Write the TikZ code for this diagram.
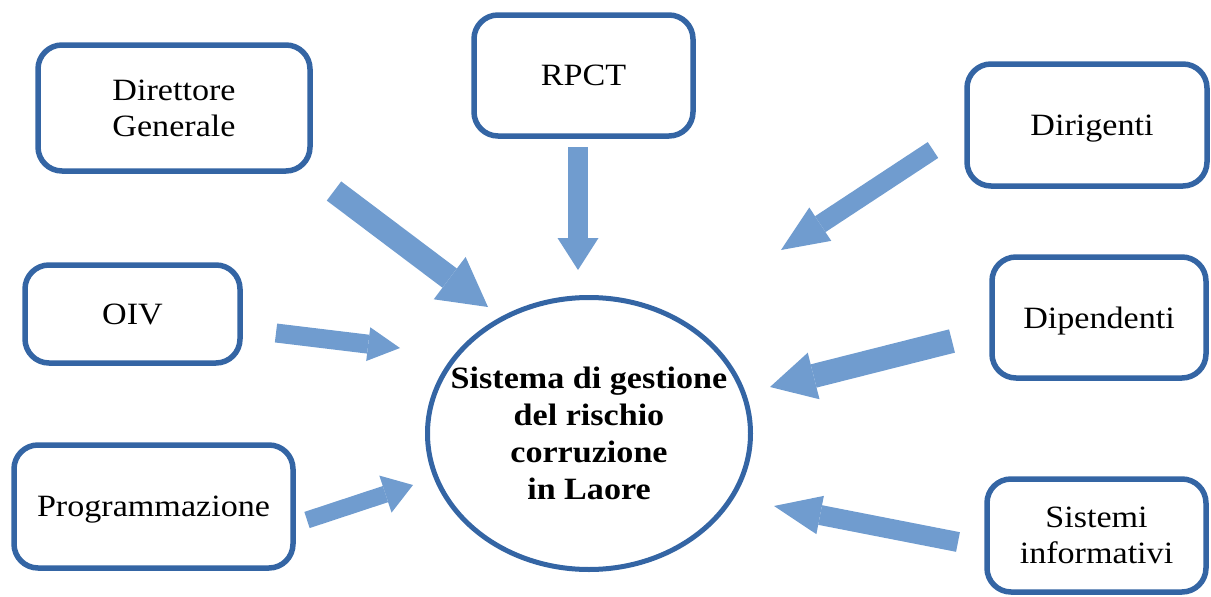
\documentclass[tikz,border=0pt]{standalone}
\usepackage{fontspec}
\setmainfont[FakeStretch=1.1]{Liberation Serif}
\usetikzlibrary{arrows.meta,shapes.geometric}
\definecolor{boxblue}{RGB}{52,101,164}
\definecolor{arrblue}{RGB}{112,156,207}
\tikzset{
  box/.style={draw=boxblue, line width=5.5pt, rounded corners=24pt, fill=white,
    inner sep=0pt, align=center, text depth=0pt,
    font=\fontsize{31}{36}\selectfont},
  blockarrow/.style={draw=arrblue, line cap=butt},
}
\begin{document}
\begin{tikzpicture}[x=1pt,y=-1pt]
\useasboundingbox (0,0) rectangle (1211,597);

% boxes
\node[box, minimum width=272pt, minimum height=126pt] (dg) at (174,108) {Direttore\\Generale};
\node[box, minimum width=219pt, minimum height=121pt] (rpct) at (583.5,75.5) {RPCT};
\node[box, minimum width=240pt, minimum height=122pt] (dirig) at (1087,125) {\hspace*{10pt}Dirigenti};
\node[box, minimum width=214pt, minimum height=121pt] (dip) at (1099,317.5) {Dipendenti};
\node[box, minimum width=219pt, minimum height=113pt] (sis) at (1096.5,535.5) {Sistemi\\informativi};
\node[box, minimum width=215pt, minimum height=98pt] (oiv) at (132.5,314) {OIV};
\node[box, minimum width=279pt, minimum height=123pt] (prog) at (153.5,506.5) {Programmazione};

% central ellipse
\node[draw=boxblue, line width=5pt, ellipse, inner sep=0pt,
      minimum width=323pt, minimum height=272pt] (sys) at (589,433.5) {};
\node[align=center, font=\fontsize{31}{37}\selectfont\bfseries, text depth=0pt]
  (systext) at (sys.center) {Sistema di gestione\\del rischio\\corruzione\\in Laore};

% arrow end points
\coordinate (dgT) at (334,191);   \coordinate (dgH) at (488,307);
\coordinate (rpT) at (578,147);   \coordinate (rpH) at (578,270);
\coordinate (diT) at (933,150);   \coordinate (diH) at (781,250);
\coordinate (dpT) at (952,341);   \coordinate (dpH) at (770,387);
\coordinate (siT) at (958,542);   \coordinate (siH) at (774,506);
\coordinate (oiT) at (276,333);   \coordinate (oiH) at (400,348);
\coordinate (prT) at (307,520);   \coordinate (prH) at (413,485);

% block arrows
\draw[blockarrow, line width=24pt, -{Triangle[length=48pt,width=53pt,line width=0pt]}] (dgT) -- (dgH);
\draw[blockarrow, line width=20pt, -{Triangle[length=32pt,width=41pt,line width=0pt]}] (rpT) -- (rpH);
\draw[blockarrow, line width=19pt, -{Triangle[length=47pt,width=40pt,line width=0pt]}] (diT) -- (diH);
\draw[blockarrow, line width=24pt, -{Triangle[length=45pt,width=48pt,line width=0pt]}] (dpT) -- (dpH);
\draw[blockarrow, line width=20pt, -{Triangle[length=47pt,width=39pt,line width=0pt]}] (siT) -- (siH);
\draw[blockarrow, line width=19pt, -{Triangle[length=32pt,width=34pt,line width=0pt]}] (oiT) -- (oiH);
\draw[blockarrow, line width=17pt, -{Triangle[length=29pt,width=39pt,line width=0pt]}] (prT) -- (prH);
\end{tikzpicture}
\end{document}
